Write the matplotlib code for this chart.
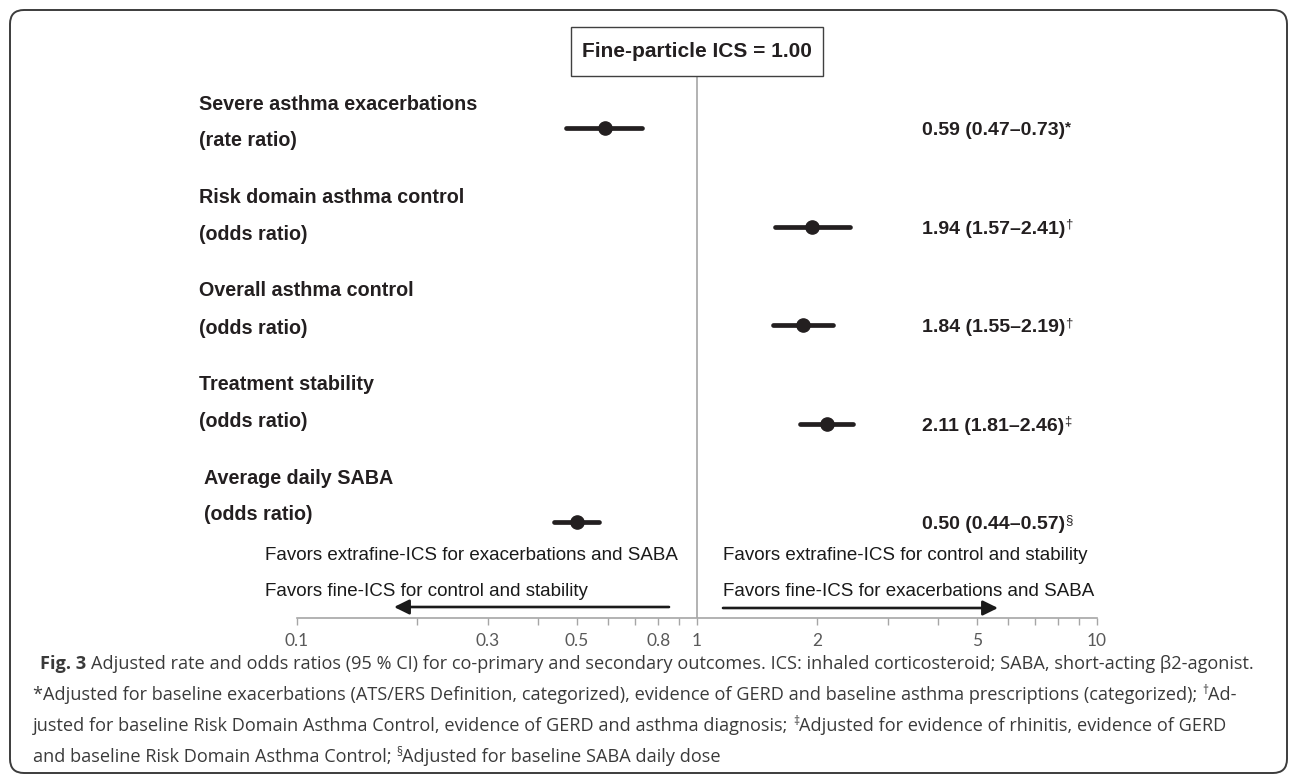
import numpy as np
import matplotlib
matplotlib.use("Agg")
import matplotlib.pyplot as plt
from matplotlib.patches import FancyBboxPatch, Rectangle
from matplotlib.transforms import IdentityTransform
from matplotlib.ticker import FixedLocator, FixedFormatter, NullFormatter

W, H, DPI = 1292, 776, 100

# ---------------- data ----------------
outcomes = ["Severe asthma exacerbations", "Risk domain asthma control",
            "Overall asthma control", "Treatment stability", "Average daily SABA"]
measures = ["(rate ratio)", "(odds ratio)", "(odds ratio)", "(odds ratio)", "(odds ratio)"]
estimate = [0.59, 1.94, 1.84, 2.11, 0.50]
ci_low = [0.47, 1.57, 1.55, 1.81, 0.44]
ci_high = [0.73, 2.41, 2.19, 2.46, 0.57]
footnote_marks = ["*", "\u2020", "\u2020", "\u2021", "\u00a7"]
tick_values = [0.1, 0.3, 0.5, 0.8, 1, 2, 5, 10]
tick_labels = ["0.1", "0.3", "0.5", "0.8", "1", "2", "5", "10"]
minor_values = [0.2, 0.4, 0.6, 0.7, 0.9, 3, 4, 6, 7, 8, 9]
reference_label = "Fine-particle ICS = 1.00"
left_favors = ["Favors extrafine-ICS for exacerbations and SABA",
               "Favors fine-ICS for control and stability"]
right_favors = ["Favors extrafine-ICS for control and stability",
                "Favors fine-ICS for exacerbations and SABA"]

INK = "#231f20"
GRAY = "#a6a6a6"

fig = plt.figure(figsize=(W / DPI, H / DPI), dpi=DPI)
fig.patch.set_facecolor("white")
renderer = fig.canvas.get_renderer()
ID = IdentityTransform()


def fy(y):  # top-based pixel -> display
    return H - y


def text_w(s, **kw):
    t = fig.text(0, 0, s, transform=ID, **kw)
    w = t.get_window_extent(renderer).width
    t.remove()
    return w


def adv(s, **kw):
    return text_w("|" + s + "|", **kw) - text_w("||", **kw)


def draw_runs(x, y, runs):
    """runs: list of (text, kwargs); text ' ' means a space gap in given style."""
    for s, kw in runs:
        kw = dict(kw)
        dy = kw.pop("dy", 0)
        if s.strip() == "":
            x += adv(s, **kw)
            continue
        fig.text(x, fy(y) + dy, s, transform=ID, ha="left", va="baseline", **kw)
        x += adv(s, **kw)
    return x


# ---------------- outer rounded frame ----------------
frame = FancyBboxPatch((10, fy(773)), 1277, 763, boxstyle="round,pad=0,rounding_size=14",
                       transform=ID, fill=False, edgecolor="#3c3c3c", lw=1.4, zorder=5)
fig.add_artist(frame)

# ---------------- forest axes ----------------
ax_left, ax_right = 297, 1097
ax_top, ax_bottom = 28, 618
ax = fig.add_axes([ax_left / W, (H - ax_bottom) / H, (ax_right - ax_left) / W,
                   (ax_bottom - ax_top) / H])
ax.set_facecolor("none")
ax.set_xscale("log")
ax.set_xlim(0.1, 10)
ypos = np.arange(len(outcomes))
row_gap = 98.5
top_units = (128 - ax_top) / row_gap
span_units = (ax_bottom - ax_top) / row_gap
ax.set_ylim(span_units - top_units, -top_units)

for sp in ["left", "right", "top"]:
    ax.spines[sp].set_visible(False)
ax.spines["bottom"].set_color(GRAY)
ax.spines["bottom"].set_linewidth(1.2)
ax.yaxis.set_visible(False)
ax.xaxis.set_major_locator(FixedLocator(tick_values))
ax.xaxis.set_major_formatter(FixedFormatter(tick_labels))
ax.xaxis.set_minor_locator(FixedLocator(minor_values))
ax.xaxis.set_minor_formatter(NullFormatter())
ax.tick_params(axis="x", which="both", direction="out", length=5, width=1,
               color=GRAY, labelsize=12.5, labelcolor="#595959", pad=6)
for lab in ax.get_xticklabels():
    lab.set_fontfamily(["Lato", "DejaVu Sans"])

ax.axvline(1, color=GRAY, lw=1.2, zorder=1)

lc = ax.hlines(ypos, ci_low, ci_high, color=INK, lw=3.4, zorder=3)
lc.set_capstyle("round")
ax.plot(estimate, ypos, "o", ms=9.5, color=INK, zorder=4)

# ---------------- reference box ----------------
box = Rectangle((571, fy(76)), 252, 49, transform=ID, facecolor="white",
                edgecolor="#404040", lw=1.0, zorder=6)
fig.add_artist(box)
fig.text(697, fy(51.5), reference_label, transform=ID, ha="center", va="center",
         fontsize=15, fontweight="bold", color=INK, family="Liberation Sans", zorder=7)

# ---------------- row labels ----------------
label_kw = dict(fontsize=14.2, fontweight="bold", color=INK, family="Liberation Sans")
label_x = [199, 199, 199, 199, 204]
for i in range(len(outcomes)):
    y1 = 104 + 93.5 * i
    fig.text(label_x[i], fy(y1), outcomes[i], transform=ID, ha="left", va="center", **label_kw)
    fig.text(label_x[i], fy(y1 + 37), measures[i], transform=ID, ha="left", va="center", **label_kw)

# ---------------- value labels ----------------
val_kw = dict(fontsize=14, fontweight="bold", color=INK, family=["Liberation Sans", "DejaVu Sans"])
sup_kw = dict(fontsize=9.5, color=INK, family=["Liberation Sans", "DejaVu Sans"], dy=6)
for i in range(len(outcomes)):
    row_y = ax.transData.transform((1, ypos[i]))[1]
    y_top = H - row_y + 7
    s = f"{estimate[i]:.2f} ({ci_low[i]:.2f}\u2013{ci_high[i]:.2f})"
    mk = dict(sup_kw)
    if footnote_marks[i] == "*":
        mk.update(fontweight="bold", fontsize=11, dy=4)
    draw_runs(922, y_top, [(s, val_kw), (footnote_marks[i], mk)])

# ---------------- favours text & arrows ----------------
fav_kw = dict(fontsize=13.5, color="#1a1a1a", family="Liberation Sans", va="center", ha="left")
fig.text(265, fy(556), left_favors[0], transform=ID, **fav_kw)
fig.text(265, fy(592), left_favors[1], transform=ID, **fav_kw)
fig.text(723, fy(556), right_favors[0], transform=ID, **fav_kw)
fig.text(723, fy(592), right_favors[1], transform=ID, **fav_kw)

arrow_kw = dict(arrowstyle="-|>,head_length=0.65,head_width=0.32", color="#1a1a1a",
                lw=1.9, shrinkA=0, shrinkB=0, mutation_scale=14)
ax.annotate("", xy=(394, fy(607)), xytext=(669, fy(607)), xycoords="figure pixels",
            textcoords="figure pixels", arrowprops=arrow_kw, annotation_clip=False)
ax.annotate("", xy=(998, fy(608)), xytext=(723, fy(608)), xycoords="figure pixels",
            textcoords="figure pixels", arrowprops=arrow_kw, annotation_clip=False)

# ---------------- caption ----------------
cap_family = ["Open Sans", "DejaVu Sans"]
cap_color = "#3a3a3a"
probe = dict(family=cap_family, fontsize=10)
line1_body = ("Adjusted rate and odds ratios (95 % CI) for co-primary and secondary outcomes. "
              "ICS: inhaled corticosteroid; SABA, short-acting \u03b22-agonist.")
w10 = adv("Fig. 3", fontweight="bold", **probe) + adv(" ", **probe) + adv(line1_body, **probe)
cap_size = 10 * (1257 - 40) / w10
reg = dict(family=cap_family, fontsize=cap_size, color=cap_color)
bold = dict(reg, fontweight="bold")
sup = dict(reg, fontsize=cap_size * 0.65, dy=6)

draw_runs(40, 669, [("Fig. 3", bold), (" ", reg), (line1_body, reg)])
draw_runs(33, 700, [("*Adjusted for baseline exacerbations (ATS/ERS Definition, categorized), "
                     "evidence of GERD and baseline asthma prescriptions (categorized);", reg),
                    (" ", reg), ("\u2020", sup), ("Ad-", reg)])
draw_runs(33, 731, [("justed for baseline Risk Domain Asthma Control, evidence of GERD and "
                     "asthma diagnosis;", reg), (" ", reg), ("\u2021", sup),
                    ("Adjusted for evidence of rhinitis, evidence of GERD", reg)])
draw_runs(33, 762, [("and baseline Risk Domain Asthma Control;", reg), (" ", reg),
                    ("\u00a7", sup), ("Adjusted for baseline SABA daily dose", reg)])

fig.savefig("out.png", dpi=DPI)
